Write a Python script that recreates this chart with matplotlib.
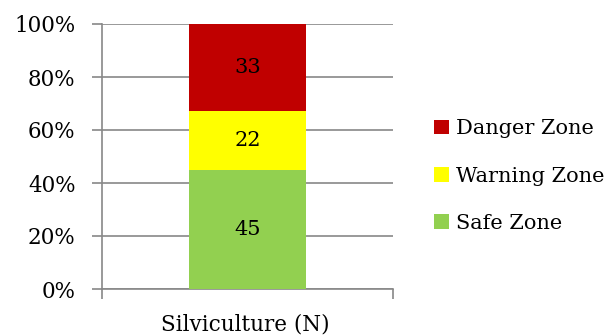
import numpy as np
import matplotlib.pyplot as plt
from matplotlib.patches import Patch

categories = ["Silviculture (N)"]
zones = ["Safe Zone", "Warning Zone", "Danger Zone"]
values = [45, 22, 33]
colors = ["#92D050", "#FFFF00", "#C00000"]

plt.rcParams['font.family'] = ['DejaVu Serif']

fig = plt.figure(figsize=(6.15, 3.36), dpi=100)
ax = fig.add_axes([102 / 615, 1 - 289 / 336, 291 / 615, 265 / 336])

x = np.arange(len(categories))
bottom = 0
for name, v, c in zip(zones, values, colors):
    ax.bar(x, v, width=0.4, bottom=bottom, color=c, zorder=3)
    ax.text(x[0], bottom + v / 2, str(v), ha="center", va="center", fontsize=15, zorder=4)
    bottom += v

ax.set_xlim(-0.5, 0.5)
ax.set_ylim(0, 100)
ax.set_yticks(np.arange(0, 101, 20))
ax.set_yticklabels([f"{t}%" for t in range(0, 101, 20)], fontsize=15.5)
ax.yaxis.grid(True, color="#888888", linewidth=1.2, zorder=0)
ax.set_xticks([-0.5, 0.5])
ax.set_xticklabels([])
ax.tick_params(axis="x", direction="out", length=7, color="#888888", width=1.2)
ax.tick_params(axis="y", direction="out", length=7, color="#888888", width=1.2, pad=12)
fig.text(245 / 615, 1 - 324 / 336, categories[0], ha="center", va="center", fontsize=15.5)

for s in ["top", "right"]:
    ax.spines[s].set_visible(False)
for s in ["left", "bottom"]:
    ax.spines[s].set_color("#888888")
    ax.spines[s].set_linewidth(1.2)

handles = [Patch(facecolor=c, label=n) for n, c in zip(zones, colors)][::-1]
fig.legend(handles=handles, loc="center left", bbox_to_anchor=(428 / 615, 1 - 176 / 336),
           frameon=False, fontsize=15, handlelength=0.7, handleheight=0.7,
           handletextpad=0.35, labelspacing=1.35, borderpad=0, borderaxespad=0.3)

fig.savefig("out.png", dpi=100)
